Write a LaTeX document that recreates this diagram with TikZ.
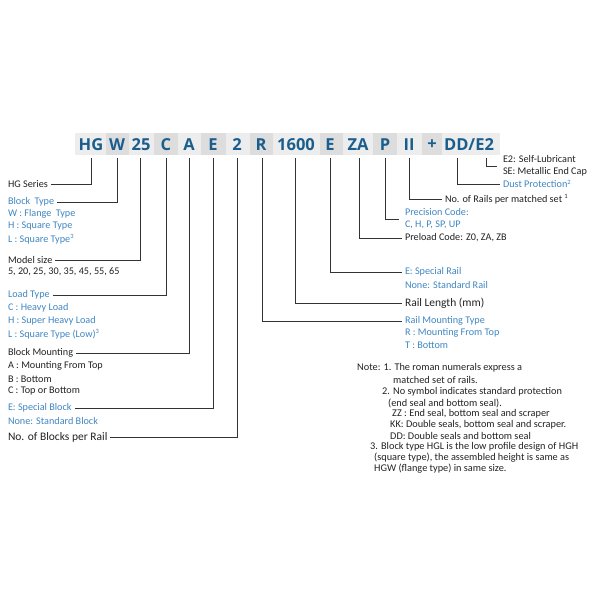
\documentclass[tikz,border=0pt]{standalone}
\usepackage{fontspec}
\setmainfont{Carlito}
\newfontfamily\codefont{Open Sans}
\definecolor{codeblue}{HTML}{1B5E8E}
\definecolor{lblue}{HTML}{3F86C2}
\definecolor{ink}{HTML}{222222}
\definecolor{lnk}{HTML}{333333}
\definecolor{gA}{HTML}{EDEDED}
\definecolor{gB}{HTML}{DDDDDD}
\newcommand{\supnum}[1]{\textsuperscript{\fontsize{6.5bp}{7bp}\selectfont #1}}
\tikzset{
  code/.style={font=\codefont\bfseries\fontsize{16.5bp}{18bp}\selectfont, text=codeblue, inner sep=0pt},
  lbk/.style={anchor=west, inner sep=0pt, outer xsep=3bp, text=ink, font=\fontsize{10.2bp}{12bp}\selectfont},
  lbl/.style={lbk, text=lblue},
  lbig/.style={lbk, font=\fontsize{11.5bp}{13bp}\selectfont},
  note/.style={anchor=west, inner sep=0pt, text=ink, font=\fontsize{10.3bp}{11bp}\selectfont},
  conn/.style={draw=lnk, line width=0.8bp}
}
\begin{document}
\begin{tikzpicture}[x=1bp,y=-1bp]
\useasboundingbox (0,0) rectangle (600,600);
% code strip
\fill[gA] (75,133) rectangle (106,155);
\fill[gB] (106,133) rectangle (129,155);
\fill[gA] (129,133) rectangle (154,155);
\fill[gB] (154,133) rectangle (178,155);
\fill[gA] (178,133) rectangle (201,155);
\fill[gB] (201,133) rectangle (226,155);
\fill[gA] (226,133) rectangle (250,155);
\fill[gB] (250,133) rectangle (273,155);
\fill[gA] (273,133) rectangle (320,155);
\fill[gB] (320,133) rectangle (343,155);
\fill[gA] (343,133) rectangle (373,155);
\fill[gB] (373,133) rectangle (397,155);
\fill[gA] (397,133) rectangle (422,155);
\fill[gB] (422,133) rectangle (442,155);
\fill[gA] (442,133) rectangle (500,155);
% codes
\node[code] (cHG) at (91,145) {HG};
\node[code] (cW) at (117,145) {W};
\node[code] (c25) at (141,145) {25};
\node[code] (cC) at (166,145) {C};
\node[code] (cA) at (189,145) {A};
\node[code] (cE) at (213,145) {E};
\node[code] (c2) at (237,145) {2};
\node[code] (cR) at (261,145) {R};
\node[code] (c1600) at (296,145) {1600};
\node[code] (cER) at (330,145) {E};
\node[code] (cZA) at (358,145) {ZA};
\node[code] (cP) at (385,145) {P};
\node[code] (cII) at (409,145) {II};
\node[code] (cPlus) at (432,145) {+};
\node[code] (cDD) at (469,145) {DD/E2};
% tick tops
\coordinate (tHG) at (91,158);
\coordinate (tW) at (117,158);
\coordinate (t25) at (140,158);
\coordinate (tC) at (166,158);
\coordinate (tA) at (189,158);
\coordinate (tE) at (213,158);
\coordinate (t2) at (237,158);
\coordinate (tR) at (262,158);
\coordinate (t1600) at (295,158);
\coordinate (tER) at (330,158);
\coordinate (tZA) at (359,158);
\coordinate (tP) at (385,158);
\coordinate (tII) at (409,158);
\coordinate (tDD) at (457,158);
\coordinate (tE2) at (486,158);
% left labels
\node[lbk] (lHG) at (5,184) {HG Series};
\node[lbl] (lBT) at (5,202) {Block\hspace{0.2em} Type};
\node[lbl] (lBT1) at (5,214) {W : Flange\hspace{0.2em} Type};
\node[lbl] (lBT2) at (5,226) {H : Square Type};
\node[lbl] (lBT3) at (5,239) {L : Square Type\supnum{3}};
\node[lbk] (lMS) at (5,260) {Model size};
\node[lbk] (lMS1) at (5,272) {5, 20, 25, 30, 35, 45, 55, 65};
\node[lbl] (lLT) at (5,295) {Load Type};
\node[lbl] (lLT1) at (5,308) {C : Heavy Load};
\node[lbl] (lLT2) at (5,321) {H : Super Heavy Load};
\node[lbl] (lLT3) at (5,334) {L : Square Type (Low)\supnum{3}};
\node[lbk] (lBM) at (5,353) {Block Mounting};
\node[lbk] (lBM1) at (5,366) {A : Mounting From Top};
\node[lbk] (lBM2) at (5,379) {B : Bottom};
\node[lbk] (lBM3) at (5,391) {C : Top or Bottom};
\node[lbl] (lES) at (5,408) {E: Special Block};
\node[lbl] (lES1) at (5,421) {None: Standard Block};
\node[lbig] (lNB) at (5,437) {No. of Blocks per Rail};
% right labels
\node[lbk] (lE2) at (500,159) {E2: Self-Lubricant};
\node[lbk] (lSE) at (500,172) {SE: Metallic End Cap};
\node[lbl] (lDP) at (500,184) {Dust Protection\supnum{2}};
\node[lbk] (lNR) at (442,199) {No. of Rails per matched set \supnum{1}};
\node[lbl] (lPC) at (402,212) {Precision Code:};
\node[lbl] (lPC1) at (402,225) {C, H, P, SP, UP};
\node[lbk] (lPL) at (402,238) {Preload Code: Z0, ZA, ZB};
\node[lbl] (lER) at (402,272) {E: Special Rail};
\node[lbl] (lER1) at (402,285) {None: Standard Rail};
\node[lbig] (lRL) at (402,303) {Rail Length (mm)};
\node[lbl] (lRM) at (402,321) {Rail Mounting Type};
\node[lbl] (lRM1) at (402,333) {R : Mounting From Top};
\node[lbl] (lRM2) at (402,345) {T : Bottom};
\coordinate (eE2) at (497,166);
\coordinate (ePC) at (399,219);
% connectors
\draw[conn] (tHG) |- (lHG.east);
\draw[conn] (tW) |- (lBT.east);
\draw[conn] (t25) |- (lMS.east);
\draw[conn] (tC) |- (lLT.east);
\draw[conn] (tA) |- (lBM.east);
\draw[conn] (tE) |- (lES.east);
\draw[conn] (t2) |- (lNB.east);
\draw[conn] (tR) |- (lRM.west);
\draw[conn] (t1600) |- (lRL.west);
\draw[conn] (tER) |- (lER.west);
\draw[conn] (tZA) |- (lPL.west);
\draw[conn] (tP) |- (ePC);
\draw[conn] (tII) |- (lNR.west);
\draw[conn] (tDD) |- (lDP.west);
\draw[conn] (tE2) |- (eE2);
% notes
\node[note] (n1) at (357,368) {Note: 1. The roman numerals express a};
\node[note] (n2) at (393,380) {matched set of rails.};
\node[note] (n3) at (382,392) {2. No symbol indicates standard protection};
\node[note] (n4) at (388,403) {(end seal and bottom seal).};
\node[note] (n5) at (392,414) {ZZ : End seal, bottom seal and scraper};
\node[note] (n6) at (390,425) {KK: Double seals, bottom seal and scraper.};
\node[note] (n7) at (390,436) {DD: Double seals and bottom seal};
\node[note] (n8) at (370,447) {3. Block type HGL is the low profile design of HGH};
\node[note] (n9) at (374,458) {(square type), the assembled height is same as};
\node[note] (n10) at (374,469) {HGW (flange type) in same size.};
\end{tikzpicture}
\end{document}
